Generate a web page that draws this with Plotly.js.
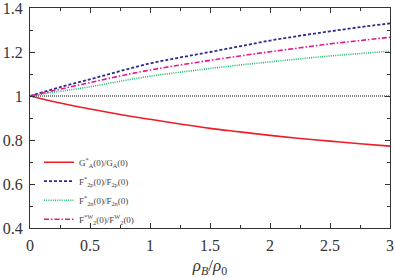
<!DOCTYPE html>
<html>
<head>
<meta charset="utf-8">
<script src="https://cdn.plot.ly/plotly-3.0.1.min.js"></script>
<style>html,body{margin:0;padding:0;background:#fff;}#chart{width:395px;height:278px;}</style>
</head>
<body>
<div id="chart"></div>
<script>
const rho = [0, 0.25, 0.5, 0.75, 1, 1.25, 1.5, 1.75, 2, 2.25, 2.5, 2.75, 3];
const gA  = [1, 0.968, 0.941, 0.916, 0.894, 0.873, 0.853, 0.837, 0.821, 0.807, 0.795, 0.783, 0.772];
const f2p = [1, 1.040, 1.076, 1.113, 1.148, 1.175, 1.200, 1.226, 1.252, 1.274, 1.294, 1.313, 1.330];
const f2n = [1, 1.021, 1.042, 1.067, 1.090, 1.108, 1.125, 1.141, 1.155, 1.169, 1.182, 1.193, 1.204];
const f2w = [1, 1.031, 1.061, 1.091, 1.118, 1.141, 1.162, 1.182, 1.201, 1.219, 1.237, 1.252, 1.267];
const refX = [0, 3];
const refY = [1, 1];
const names = [
  'G<sup>*</sup><sub>A</sub>(0)/G<sub>A</sub>(0)',
  'F<sup>*</sup><sub>2p</sub>(0)/F<sub>2p</sub>(0)',
  'F<sup>*</sup><sub>2n</sub>(0)/F<sub>2n</sub>(0)',
  'F<sup>*W</sup><sub>2</sub>(0)/F<sup>W</sup><sub>2</sub>(0)'
];
const serif = "'Liberation Serif', 'DejaVu Serif', serif";
const traces = [
  {x: refX, y: refY, mode: 'lines', line: {color: '#000', width: 1, dash: '1px,1px'}, showlegend: false, hoverinfo: 'skip'},
  {x: rho, y: gA, name: names[0], mode: 'lines', line: {color: '#ee1c25', width: 1.6, shape: 'spline'}},
  {x: rho, y: f2p, name: names[1], mode: 'lines', line: {color: '#2b2b8f', width: 1.8, dash: '3px,2px', shape: 'spline'}},
  {x: rho, y: f2n, name: names[2], mode: 'lines', line: {color: '#1fb86a', width: 1.6, dash: '1px,1.2px', shape: 'spline'}},
  {x: rho, y: f2w, name: names[3], mode: 'lines', line: {color: '#e8168c', width: 1.6, dash: '5px,2px,1.5px,2px', shape: 'spline'}}
];
const axisCommon = {
  showgrid: false, zeroline: false, showline: true, linecolor: '#333', linewidth: 1,
  ticks: 'inside', ticklen: 5, tickcolor: '#333', mirror: 'allticks',
  tickfont: {family: serif, size: 16, color: '#333'}, ticklabeloverflow: 'allow'
};
const layout = {
  width: 395, height: 278,
  margin: {l: 30, r: 5, t: 8, b: 50},
  paper_bgcolor: '#fff', plot_bgcolor: '#fff',
  xaxis: Object.assign({}, axisCommon, {
    range: [0, 3], tickvals: [0, 0.5, 1, 1.5, 2, 2.5, 3], ticktext: ['0','0.5','1','1.5','2','2.5','3'],
    minor: {dtick: 0.25, ticks: 'inside', ticklen: 3, tickcolor: '#333'}, ticklabelstandoff: 3,
    title: {text: '<i>ρ<sub>B</sub></i>/<i>ρ</i><sub>0</sub>', font: {family: serif, size: 17, color: '#333'}, standoff: 6}
  }),
  yaxis: Object.assign({}, axisCommon, {
    range: [0.4, 1.4], tickvals: [0.4, 0.6, 0.8, 1, 1.2, 1.4], ticktext: ['0.4','0.6','0.8','1','1.2','1.4'],
    minor: {dtick: 0.1, ticks: 'inside', ticklen: 3, tickcolor: '#333'}, ticklabelstandoff: 3
  }),
  legend: {x: 0.025, y: 0.365, xanchor: 'left', yanchor: 'top', bgcolor: 'rgba(0,0,0,0)',
    font: {family: serif, size: 9, color: '#444'}, tracegroupgap: 0, itemwidth: 30},
  showlegend: true
};
Plotly.newPlot('chart', traces, layout, {staticPlot: true, displayModeBar: false});
</script>
</body>
</html>
